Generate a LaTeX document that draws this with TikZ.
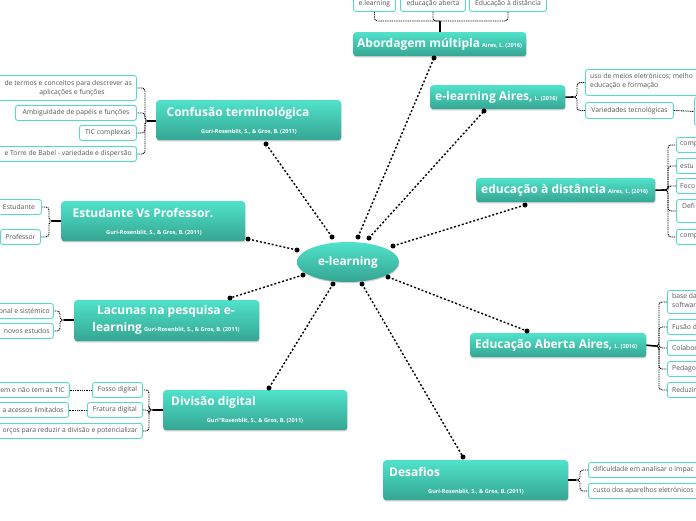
\documentclass[tikz,border=0pt]{standalone}
\usepackage{fontspec}
\setmainfont{Open Sans}
\usetikzlibrary{shapes.geometric,shadows}
\definecolor{tealtop}{HTML}{50E2CA}
\definecolor{tealbot}{HTML}{34A592}
\definecolor{subborder}{HTML}{55DCC6}
\definecolor{subtext}{HTML}{555555}
\newcommand\smallcite{\fontsize{5.6}{6}\selectfont}
\tikzset{
  topic/.style={rounded corners=3pt, top color=tealtop, bottom color=tealbot, draw=none, anchor=north west, inner sep=0pt,
    drop shadow={shadow xshift=0.4pt, shadow yshift=-1.2pt, opacity=0.25, fill=black!70}},
  ttl/.style={font=\bfseries\fontsize{12}{17}\selectfont, text=white, inner sep=0pt},
  cite/.style={font=\bfseries\smallcite, text=white, inner sep=0pt},
  sub/.style={draw=subborder, line width=0.9pt, fill=white, rounded corners=2.5pt, anchor=north west, inner sep=0pt,
    font=\fontsize{6.8}{8.8}\selectfont, text=subtext, align=center},
  subtxt/.style={font=\fontsize{6.8}{8.8}\selectfont, text=subtext, inner sep=0pt},
  conn/.style={line width=1.4pt, dash pattern=on 2pt off 2pt},
  br/.style={line width=0.9pt, dash pattern=on 1pt off 0.8pt, rounded corners=3pt},
  solidbr/.style={line width=1.6pt},
  enddot/.style={circle, fill=black, inner sep=0pt, minimum size=5pt}
}
\begin{document}
\begin{tikzpicture}[x=1pt,y=-1pt]
\useasboundingbox (0,0) rectangle (696,520);
\fill[white] (0,0) rectangle (696,520);

% central node
\node[ellipse, minimum width=102pt, minimum height=40pt, top color=tealtop, bottom color=tealbot, inner sep=0pt,
  font=\bfseries\fontsize{11.8}{13}\selectfont, text=white,
  drop shadow={shadow xshift=0.4pt, shadow yshift=-1.2pt, opacity=0.25, fill=black!70}] (el) at (348,262) {e-learning};

% ---------------- Abordagem múltipla
\node[topic, minimum width=173pt, minimum height=24pt] (tab) at (353,32) {};
\node[ttl, anchor=west] (tabt) at (357,44) {Abordagem múltipla\,{\smallcite Aires, L. (2016)}};
\node[sub, minimum width=42pt, minimum height=15pt] (a1) at (353,-4) {e.learning};
\node[sub, minimum width=65pt, minimum height=15pt] (a2) at (400,-4) {educação aberta};
\node[sub, minimum width=77pt, minimum height=15pt] (a3) at (469,-4) {Educação à distância};
\coordinate (ja) at (440,21);
\draw[br] (a1.south) |- (ja);
\draw[br] (a2.south) |- (ja);
\draw[br] (a3.south) |- (ja);
\draw[solidbr] (ja) -- (ja |- tab.north);

% ---------------- e-learning Aires
\node[topic, minimum width=135pt, minimum height=24pt] (tea) at (430,85) {};
\node[ttl, anchor=west] (teat) at (435,97) {e-learning Aires,\,{\smallcite L. (2016)}};
\node[sub, minimum width=130pt, minimum height=26pt] (ea1) at (585,69) {};
\node[subtxt, anchor=north west, align=left] (ea1t) at ([xshift=5pt,yshift=-4pt]ea1.north west) {uso de meios eletrónicos; melho\\educação e formação};
\node[sub, minimum width=88pt, minimum height=16pt] (ea2) at (585,102) {Variedades tecnológicas};
\node[sub, minimum width=30pt, minimum height=28pt] (ea3) at (694,97) {};
\coordinate (jea) at (573,97);
\draw[solidbr] (tea.east) -- (jea);
\draw[br] (jea) -- ++(4,0) |- (ea1.west);
\draw[br] (jea) -- ++(4,0) |- (ea2.west);
\draw[br] (ea2.east) -- (ea3.west);

% ---------------- educação à distância
\node[topic, minimum width=179pt, minimum height=24pt] (ted) at (476,178) {};
\node[ttl, anchor=west] (tedt) at (481,190) {educação à distância\,{\smallcite Aires, L. (2016)}};
\node[sub, minimum width=40pt, minimum height=15pt] (ed1) at (676,137) {};
\node[sub, minimum width=40pt, minimum height=15pt] (ed2) at (676,158) {};
\node[sub, minimum width=40pt, minimum height=15pt] (ed3) at (676,178) {};
\node[sub, minimum width=40pt, minimum height=23pt] (ed4) at (676,199) {};
\node[sub, minimum width=40pt, minimum height=15pt] (ed5) at (676,229) {};
\node[subtxt, anchor=west] (ed1t) at ([xshift=4pt]ed1.west) {comp};
\node[subtxt, anchor=west] (ed2t) at ([xshift=4pt]ed2.west) {estu};
\node[subtxt, anchor=west] (ed3t) at ([xshift=4pt]ed3.west) {Foco};
\node[subtxt, anchor=north west] (ed4t) at ([xshift=6pt,yshift=-4pt]ed4.north west) {Defi};
\node[subtxt, anchor=west] (ed5t) at ([xshift=4pt]ed5.west) {comp};
\coordinate (jed) at (664,190);
\draw[solidbr] (ted.east) -- (jed);
\foreach \n in {ed1,ed2,ed3,ed4,ed5} \draw[br] (jed) -- ++(4,0) |- (\n.west);

% ---------------- Educação Aberta
\node[topic, minimum width=176pt, minimum height=24pt] (teab) at (470,333) {};
\node[ttl, anchor=west] (teabt) at (475,345) {Educação Aberta Aires,\,{\smallcite L. (2016)}};
\node[sub, minimum width=40pt, minimum height=23pt] (eb1) at (667,290) {};
\node[sub, minimum width=40pt, minimum height=15pt] (eb2) at (667,319) {};
\node[sub, minimum width=40pt, minimum height=15pt] (eb3) at (667,340) {};
\node[sub, minimum width=40pt, minimum height=15pt] (eb4) at (667,361) {};
\node[sub, minimum width=40pt, minimum height=15pt] (eb5) at (667,382) {};
\node[subtxt, anchor=north west, align=left] (eb1t) at ([xshift=5pt,yshift=-3pt]eb1.north west) {base da\\softwar};
\node[subtxt, anchor=west] (eb2t) at ([xshift=5pt]eb2.west) {Fusão d};
\node[subtxt, anchor=west] (eb3t) at ([xshift=5pt]eb3.west) {Colabor};
\node[subtxt, anchor=west] (eb4t) at ([xshift=5pt]eb4.west) {Pedago};
\node[subtxt, anchor=west] (eb5t) at ([xshift=5pt]eb5.west) {Reduzir};
\coordinate (jeb) at (655,346);
\draw[solidbr] (teab.east) -- (jeb);
\foreach \n in {eb1,eb2,eb3,eb4,eb5} \draw[br] (jeb) -- ++(4,0) |- (\n.west);

% ---------------- Desafios
\node[topic, minimum width=185pt, minimum height=40pt] (tde) at (383,460) {};
\node[ttl, anchor=west] (tdet) at (389,472) {Desafios};
\node[cite] (tdec) at (476,492) {Guri-Rosenblit, S., \& Gros, B. (2011)};
\node[sub, minimum width=130pt, minimum height=15pt] (de1) at (588,462) {};
\node[sub, minimum width=130pt, minimum height=15pt] (de2) at (588,483) {};
\node[subtxt, anchor=west] (de1t) at ([xshift=5pt]de1.west) {dificuldade em analisar o impac};
\node[subtxt, anchor=west] (de2t) at ([xshift=5pt]de2.west) {custo dos aparelhos eletrónicos};
\coordinate (jde) at (576,480);
\draw[solidbr] (tde.east |- jde) -- (jde);
\foreach \n in {de1,de2} \draw[br] (jde) -- ++(4,0) |- (\n.west);

% ---------------- Divisão digital
\node[topic, minimum width=184pt, minimum height=40pt] (tdd) at (163,390) {};
\node[ttl, anchor=west] (tddt) at (171,402) {Divisão digital};
\node[cite] (tddc) at (255,421) {Guri”Rosenblit, S., \& Gros, B. (2011)};
\node[sub, minimum width=50pt, minimum height=15pt] (dd1) at (92,382) {Fosso digital};
\node[sub, minimum width=55pt, minimum height=15pt] (dd2) at (87,402) {Fratura digital};
\node[sub, minimum width=152pt, minimum height=15pt] (dd3) at (-10,423) {};
\node[subtxt, anchor=east] (dd3t) at ([xshift=-5pt]dd3.east) {orços para reduzir a divisão e potencializar};
\node[sub, minimum width=79pt, minimum height=15pt] (dd4) at (-10,382) {};
\node[subtxt, anchor=east] (dd4t) at ([xshift=-5pt]dd4.east) {tem e não tem as TIC};
\node[sub, minimum width=78pt, minimum height=15pt] (dd5) at (-10,402) {};
\node[subtxt, anchor=east] (dd5t) at ([xshift=-5pt]dd5.east) {a acessos limitados};
\coordinate (jdd) at (153,410);
\draw[solidbr] (tdd.west |- jdd) -- (jdd);
\foreach \n in {dd1,dd2,dd3} \draw[br] (jdd) -- ++(-4,0) |- (\n.east);
\draw[br] (dd1.west) -- (dd4.east);
\draw[br] (dd2.west) -- (dd5.east);

% ---------------- Lacunas
\node[topic, minimum width=185pt, minimum height=41pt] (tla) at (74,300) {};
\node[ttl, align=center] (tlat) at (166,320) {Lacunas na pesquisa e-\\learning\,{\smallcite Guri-Rosenblit, S., \& Gros, B. (2011)}};
\node[sub, minimum width=63pt, minimum height=15pt] (la1) at (-10,303) {};
\node[sub, minimum width=63pt, minimum height=15pt] (la2) at (-10,323) {};
\node[subtxt, anchor=east] (la1t) at ([xshift=-4pt]la1.east) {onal e sistémico};
\node[subtxt, anchor=east] (la2t) at ([xshift=-4pt]la2.east) {novos estudos};
\coordinate (jla) at (64,320);
\draw[solidbr] (tla.west |- jla) -- (jla);
\foreach \n in {la1,la2} \draw[br] (jla) -- ++(-4,0) |- (\n.east);

% ---------------- Estudante Vs Professor
\node[topic, minimum width=184pt, minimum height=40pt] (tev) at (61,201) {};
\node[ttl] (tevt) at (143,213) {Estudante Vs Professor.};
\node[cite] (tevc) at (154,233) {Guri-Rosenblit, S., \& Gros, B. (2011)};
\node[sub, minimum width=45pt, minimum height=15pt] (ev1) at (-4,199) {Estudante};
\node[sub, minimum width=40pt, minimum height=15pt] (ev2) at (0,229) {Professor};
\coordinate (jev) at (52,221);
\draw[solidbr] (tev.west |- jev) -- (jev);
\foreach \n in {ev1,ev2} \draw[br] (jev) -- ++(-3,0) |- (\n.east);

% ---------------- Confusão terminológica
\node[topic, minimum width=185pt, minimum height=40pt] (tct) at (156,100) {};
\node[ttl] (tctt) at (238,113) {Confusão terminológica};
\node[cite] (tctc) at (249,132) {Guri-Rosenblit, S., \& Gros, B. (2011)};
\node[sub, minimum width=146pt, minimum height=25pt] (ct1) at (-10,75) {};
\node[subtxt, anchor=east] (ct1a) at (132,83.5) {de termos e conceitos para descrever as};
\node[subtxt] (ct1b) at (72,92.5) {aplicações e funções};
\node[sub, minimum width=121pt, minimum height=15pt] (ct2) at (15,105) {Ambiguidade de papéis e funções};
\node[sub, minimum width=57pt, minimum height=15pt] (ct3) at (79,125) {TIC complexas};
\node[sub, minimum width=146pt, minimum height=15pt] (ct4) at (-10,146) {};
\node[subtxt, anchor=east] (ct4t) at ([xshift=-5pt]ct4.east) {e Torre de Babel - variedade e dispersão};
\coordinate (jct) at (148,121);
\draw[solidbr] (tct.west |- jct) -- (jct);
\foreach \n in {ct1,ct2,ct3,ct4} \draw[br] (jct) -- ++(-3,0) |- (\n.east);

% ---------------- central connectors
\coordinate (e1) at (358,237); \coordinate (d1) at (434,58);
\coordinate (e2) at (369,238); \coordinate (d2) at (484,111);
\coordinate (e3) at (393,246); \coordinate (d3) at (525,205);
\coordinate (e4) at (388,277); \coordinate (d4) at (527,331);
\coordinate (e5) at (362,284); \coordinate (d5) at (463,457);
\coordinate (e6) at (333,284); \coordinate (d6) at (269,388);
\coordinate (e7) at (303,275); \coordinate (d7) at (230,298);
\coordinate (e8) at (297,250); \coordinate (d8) at (248,239);
\coordinate (e9) at (332,237); \coordinate (d9) at (266,144);
\foreach \i in {1,...,9} {
  \draw[conn] (e\i) -- (d\i);
  \node[enddot] at (e\i) {};
  \node[enddot] at (d\i) {};
}
\end{tikzpicture}
\end{document}
